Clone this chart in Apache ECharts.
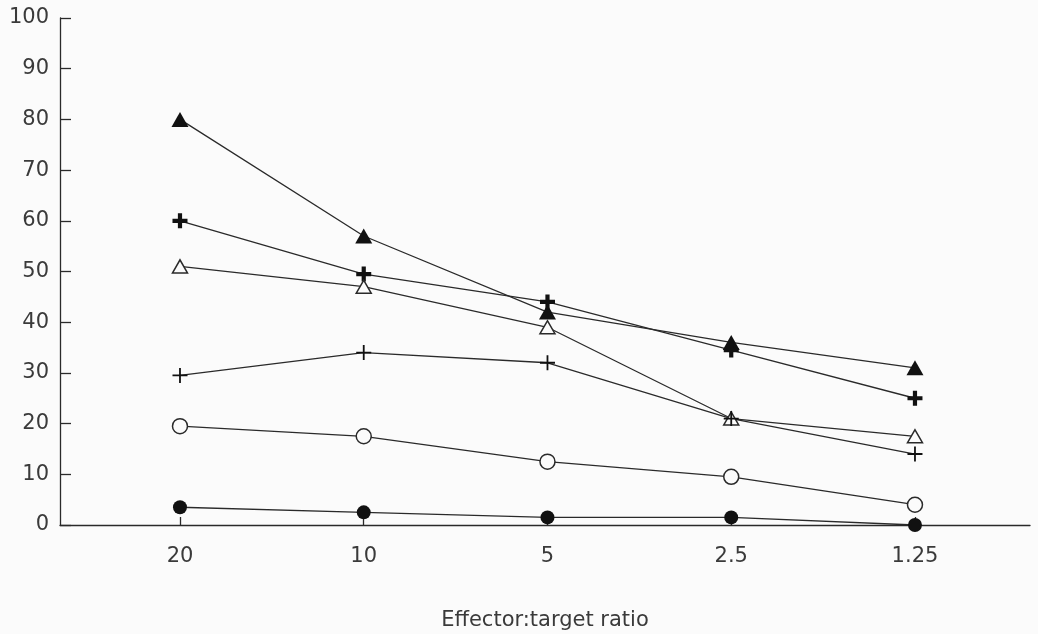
<!DOCTYPE html>
<html>
<head>
<meta charset="utf-8">
<script src="https://cdn.jsdelivr.net/npm/echarts@6/dist/echarts.min.js"></script>
<style>
  html, body { margin: 0; padding: 0; background: #fbfbfb; }
  #chart { width: 1038px; height: 634px; }
</style>
</head>
<body>
<div id="chart"></div>
<script>
// Categories (effector:target ratio)
const categories = ['20', '10', '5', '2.5', '1.25'];
// Y tick labels
const yTicks = [0, 10, 20, 30, 40, 50, 60, 70, 80, 90, 100];
// Series values (% specific lysis)
const filledTriangle = [80, 57, 42, 36, 31];
const boldPlus       = [60, 49.5, 44, 34.5, 25];
const openTriangle   = [51, 47, 39, 21, 17.5];
const thinPlus       = [29.5, 34, 32, 21, 14];
const openCircle     = [19.5, 17.5, 12.5, 9.5, 4];
const filledCircle   = [3.5, 2.5, 1.5, 1.5, 0];

const INK = '#2a2a2a';
const TEXT = '#3a3a3a';
const FONT = 'DejaVu Sans';
const plusBold = 'path://M3.6,0H6.4V3.6H10V6.4H6.4V10H3.6V6.4H0V3.6H3.6Z';
const plusThin = 'path://M4.4,0H5.6V4.4H10V5.6H5.6V10H4.4V5.6H0V4.4H4.4Z';

function pts(arr) { return arr.map((v, i) => [i, v]); }

function mk(name, data, symbol, size, fill, border) {
  return {
    name: name,
    type: 'line',
    data: pts(data),
    symbol: symbol,
    symbolSize: size,
    showAllSymbol: true,
    lineStyle: { color: INK, width: 1.3 },
    itemStyle: { color: fill, borderColor: border || fill, borderWidth: border ? 1.5 : 0 },
    emphasis: { disabled: true },
    z: 3
  };
}

const chart = echarts.init(document.getElementById('chart'), null, { renderer: 'canvas' });
chart.setOption({
  backgroundColor: '#fbfbfb',
  animation: false,
  grid: { left: 60, right: 8, top: 18, bottom: 109, containLabel: false, outerBoundsMode: 'none' },
  xAxis: {
    type: 'value',
    min: -0.653,
    max: 4.626,
    name: 'Effector:target ratio',
    nameLocation: 'middle',
    nameGap: 85,
    nameTextStyle: { color: TEXT, fontSize: 21, fontFamily: FONT },
    axisLine: { show: true, onZero: false, lineStyle: { color: INK, width: 1.3 } },
    axisTick: { show: true, inside: true, length: 8, customValues: [0, 1, 2, 3, 4], lineStyle: { color: INK, width: 1.3 } },
    axisLabel: {
      customValues: [0, 1, 2, 3, 4],
      formatter: v => categories[Math.round(v)],
      color: TEXT, fontSize: 21, fontFamily: FONT, margin: 21
    },
    splitLine: { show: false }
  },
  yAxis: {
    type: 'value',
    min: 0,
    max: 100,
    interval: 10,
    axisLine: { show: true, onZero: false, lineStyle: { color: INK, width: 1.3 } },
    axisTick: { show: true, inside: true, length: 11, lineStyle: { color: INK, width: 1.3 } },
    axisLabel: {
      formatter: v => (yTicks.indexOf(v) >= 0 ? String(v) : ''),
      color: TEXT, fontSize: 21, fontFamily: FONT, margin: 11
    },
    splitLine: { show: false }
  },
  series: [
    mk('filled triangle', filledTriangle, 'triangle', [17, 15], '#111'),
    mk('bold plus', boldPlus, plusBold, 15, '#111'),
    mk('open triangle', openTriangle, 'triangle', [15, 13], '#fbfbfb', INK),
    mk('thin plus', thinPlus, plusThin, 15, '#111'),
    mk('open circle', openCircle, 'circle', 15, '#fbfbfb', INK),
    mk('filled circle', filledCircle, 'circle', 14, '#111')
  ]
});
</script>
</body>
</html>
